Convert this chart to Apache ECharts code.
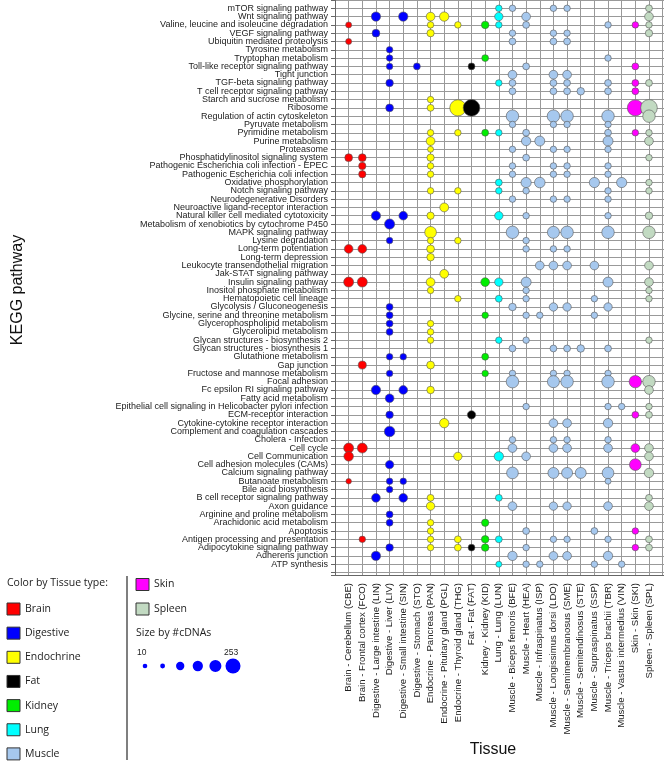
<!DOCTYPE html>
<html><head><meta charset="utf-8">
<script src="https://cdn.jsdelivr.net/npm/echarts@6/dist/echarts.min.js"></script>
<style>html,body{margin:0;padding:0;background:#fff}#c{width:664px;height:765px}</style>
</head><body><div id="c"></div>
<script>
const pathways = [
"mTOR signaling pathway","Wnt signaling pathway","Valine, leucine and isoleucine degradation","VEGF signaling pathway",
"Ubiquitin mediated proteolysis","Tyrosine metabolism","Tryptophan metabolism","Toll-like receptor signaling pathway",
"Tight junction","TGF-beta signaling pathway","T cell receptor signaling pathway","Starch and sucrose metabolism",
"Ribosome","Regulation of actin cytoskeleton","Pyruvate metabolism","Pyrimidine metabolism","Purine metabolism",
"Proteasome","Phosphatidylinositol signaling system","Pathogenic Escherichia coli infection - EPEC",
"Pathogenic Escherichia coli infection","Oxidative phosphorylation","Notch signaling pathway",
"Neurodegenerative Disorders","Neuroactive ligand-receptor interaction","Natural killer cell mediated cytotoxicity",
"Metabolism of xenobiotics by cytochrome P450","MAPK signaling pathway","Lysine degradation","Long-term potentiation",
"Long-term depression","Leukocyte transendothelial migration","Jak-STAT signaling pathway","Insulin signaling pathway",
"Inositol phosphate metabolism","Hematopoietic cell lineage","Glycolysis / Gluconeogenesis",
"Glycine, serine and threonine metabolism","Glycerophospholipid metabolism","Glycerolipid metabolism",
"Glycan structures - biosynthesis 2","Glycan structures - biosynthesis 1","Glutathione metabolism","Gap junction",
"Fructose and mannose metabolism","Focal adhesion","Fc epsilon RI signaling pathway","Fatty acid metabolism",
"Epithelial cell signaling in Helicobacter pylori infection","ECM-receptor interaction",
"Cytokine-cytokine receptor interaction","Complement and coagulation cascades","Cholera - Infection","Cell cycle",
"Cell Communication","Cell adhesion molecules (CAMs)","Calcium signaling pathway","Butanoate metabolism",
"Bile acid biosynthesis","B cell receptor signaling pathway","Axon guidance","Arginine and proline metabolism",
"Arachidonic acid metabolism","Apoptosis","Antigen processing and presentation","Adipocytokine signaling pathway",
"Adherens junction","ATP synthesis"];

const tissues = ["Brain - Cerebellum (CBE)","Brain - Frontal cortex (FCO)","Digestive - Large intestine (LIN)",
"Digestive - Liver (LIV)","Digestive - Small intestine (SIN)","Digestive - Stomach (STO)","Endocrine - Pancreas (PAN)",
"Endocrine - Pituitary gland (PGL)","Endocrine - Thyroid gland (THG)","Fat - Fat (FAT)","Kidney - Kidney (KID)",
"Lung - Lung (LUN)","Muscle - Biceps femoris (BFE)","Muscle - Heart (HEA)","Muscle - Infraspinatus (ISP)",
"Muscle - Longissimus dorsi (LDO)","Muscle - Semimembranosus (SME)","Muscle - Semitendinosus (STE)",
"Muscle - Supraspinatus (SSP)","Muscle - Triceps brachii (TBR)","Muscle - Vastus intermedius (VIN)",
"Skin - Skin (SKI)","Spleen - Spleen (SPL)"];

const typeNames = ["Brain","Digestive","Endochrine","Fat","Kidney","Lung","Muscle","Skin","Spleen"];
const typeColors = ["#ff0000","#0000ff","#ffff00","#000000","#00ee00","#00ffff","#a6c8ee","#ff00ff","#c2dac2"];
const tissueType = [0,0,1,1,1,1,2,2,2,3,4,5,6,6,6,6,6,6,6,6,6,7,8];

// [pathway index, #cDNAs]
const CBE = [[2,24],[4,24],[18,50],[29,67],[33,95],[53,95],[54,85],[57,18]];
const FCO = [[18,50],[19,42],[20,42],[29,67],[33,95],[43,55],[53,95],[64,30]];
const LIN = [[1,80],[3,50],[25,80],[46,80],[59,67],[66,80]];
const LIV = [[5,30],[6,30],[7,30],[9,45],[12,50],[26,100],[28,30],[36,35],[37,35],[38,35],[39,35],[42,30],[44,30],[47,67],[49,45],[51,110],[55,60],[57,30],[58,30],[61,35],[62,35],[65,45]];
const SIN = [[1,80],[25,67],[42,30],[46,67],[57,30],[59,67]];
const STO = [[7,35]];
const PAN = [[1,67],[2,30],[3,42],[11,30],[12,35],[15,30],[16,67],[17,24],[18,42],[19,30],[20,30],[22,30],[25,42],[27,140],[28,30],[29,50],[30,45],[33,67],[34,30],[38,30],[39,30],[40,30],[43,50],[46,45],[59,35],[60,60],[62,30],[63,30],[64,30],[65,30]];
const PGL = [[1,80],[24,70],[32,67],[50,80]];
const THG = [[2,30],[12,300],[15,30],[22,30],[28,30],[35,30],[54,60],[64,35],[65,35]];
const FAT = [[7,35],[12,320],[49,60],[65,35]];
const KID = [[2,45],[6,35],[15,35],[33,67],[37,30],[42,35],[44,30],[62,42],[64,45],[65,45]];
const LUN = [[0,30],[1,60],[2,30],[9,30],[15,30],[21,35],[22,30],[25,60],[33,60],[35,35],[40,30],[54,80],[59,35],[64,35],[67,24]];
const BFE = [[0,30],[3,30],[4,35],[8,67],[9,35],[10,35],[13,164],[14,30],[17,30],[19,30],[20,30],[23,30],[27,164],[36,45],[41,35],[44,30],[45,164],[52,30],[53,67],[56,140],[60,67],[66,80]];
const HEA = [[1,67],[2,35],[7,35],[15,35],[16,80],[18,35],[21,100],[22,30],[25,30],[28,30],[29,30],[33,95],[34,30],[35,30],[37,30],[40,30],[48,30],[54,67],[63,35],[65,30],[67,30]];
const ISP = [[16,95],[21,110],[31,67],[37,30],[67,30]];
const LDO = [[0,30],[3,30],[4,35],[8,67],[9,35],[10,35],[13,164],[14,30],[17,30],[19,30],[20,30],[23,30],[27,150],[29,30],[31,67],[36,60],[41,35],[44,30],[45,150],[50,67],[52,30],[53,67],[56,120],[60,60],[64,30],[66,67]];
const SME = [[0,30],[3,30],[4,35],[8,67],[9,35],[10,35],[13,164],[14,30],[17,30],[19,30],[20,30],[23,30],[27,164],[29,30],[31,67],[36,60],[41,35],[44,30],[45,164],[50,67],[52,30],[53,67],[56,120],[60,60],[64,30],[66,67]];
const STE = [[10,45],[41,45],[56,120]];
const SSP = [[21,100],[31,67],[35,30],[37,30],[63,35],[67,30]];
const TBR = [[2,30],[6,30],[9,35],[10,35],[13,164],[14,30],[15,35],[16,95],[17,30],[19,30],[20,30],[22,30],[23,30],[25,30],[27,164],[33,95],[36,60],[41,35],[44,30],[45,164],[48,30],[50,80],[52,30],[53,67],[56,140],[57,24],[60,67],[64,30],[66,80]];
const VIN = [[21,100],[48,30],[67,30]];
const SKI = [[2,30],[7,35],[9,35],[10,35],[12,290],[15,30],[45,160],[49,35],[53,67],[55,140],[63,30],[65,30]];
const SPL = [[0,35],[1,67],[2,30],[3,42],[9,35],[12,320],[13,164],[15,30],[16,67],[18,30],[21,30],[22,30],[25,45],[27,164],[31,67],[33,67],[34,30],[35,30],[40,30],[45,164],[46,67],[48,30],[49,35],[53,67],[54,67],[56,80],[59,35],[60,67],[64,35],[65,35]];
const tissueData = [CBE,FCO,LIN,LIV,SIN,STO,PAN,PGL,THG,FAT,KID,LUN,BFE,HEA,ISP,LDO,SME,STE,SSP,TBR,VIN,SKI,SPL];
const sizeKeyValues = [10, 12, 59, 102, 149, 253];
const sizeKeyLabels = ["10", "253"];

const sizeFn = v => 2 + 0.82 * Math.sqrt(v);
const FONT = "Liberation Sans, Arial, sans-serif";
const LFONT = "Open Sans, sans-serif";

const series = tissueData.map((arr, c) => ({
  type: 'scatter',
  name: tissues[c],
  data: arr.map(([r, v]) => [c, r, v]),
  symbolSize: d => sizeFn(d[2]),
  itemStyle: { color: typeColors[tissueType[c]], borderColor: '#555', borderWidth: 0.6, opacity: 1 },
  emphasis: { disabled: true },
  z: 3
}));

const graphic = [];
graphic.push({ type: 'text', x: 18, y: 290, rotation: Math.PI/2,
  style: { text: 'KEGG pathway', font: '16px ' + FONT, fill: '#111', align: 'center', verticalAlign: 'middle' } });
graphic.push({ type: 'text', x: 493, y: 750,
  style: { text: 'Tissue', font: '16px ' + FONT, fill: '#111', align: 'center', verticalAlign: 'middle' } });
graphic.push({ type: 'text', x: 7, y: 583,
  style: { text: 'Color by Tissue type:', font: '10.5px ' + LFONT, fill: '#222', verticalAlign: 'middle' } });
for (let i = 0; i < 7; i++) {
  const cy = 609 + 24.15 * i;
  graphic.push({ type: 'rect', shape: { x: 7, y: cy - 6, width: 13, height: 12 },
    style: { fill: typeColors[i], stroke: '#333', lineWidth: 1 } });
  graphic.push({ type: 'text', x: 25, y: cy,
    style: { text: typeNames[i], font: '10.5px ' + LFONT, fill: '#222', verticalAlign: 'middle' } });
}
[7, 8].forEach((t, k) => {
  const cy = 584.5 + 24.5 * k;
  graphic.push({ type: 'rect', shape: { x: 136, y: cy - 6, width: 13, height: 12 },
    style: { fill: typeColors[t], stroke: '#333', lineWidth: 1 } });
  graphic.push({ type: 'text', x: 154, y: cy,
    style: { text: typeNames[t], font: '10.5px ' + LFONT, fill: '#222', verticalAlign: 'middle' } });
});
graphic.push({ type: 'line', shape: { x1: 127, y1: 576, x2: 127, y2: 760 }, style: { stroke: '#555', lineWidth: 1.5 } });
graphic.push({ type: 'text', x: 136, y: 633,
  style: { text: 'Size by #cDNAs', font: '10.5px ' + LFONT, fill: '#222', verticalAlign: 'middle' } });
graphic.push({ type: 'text', x: 137, y: 653, style: { text: sizeKeyLabels[0], font: '8.5px ' + FONT, fill: '#222', verticalAlign: 'middle' } });
graphic.push({ type: 'text', x: 224, y: 653, style: { text: sizeKeyLabels[1], font: '8.5px ' + FONT, fill: '#222', verticalAlign: 'middle' } });
sizeKeyValues.forEach((v, i) => {
  graphic.push({ type: 'circle', shape: { cx: 145 + 17.6 * i, cy: 666, r: sizeFn(v) / 2 }, style: { fill: '#0000ff' } });
});

const chart = echarts.init(document.getElementById('c'), null, { renderer: 'canvas' });
chart.setOption({
  animation: false,
  backgroundColor: '#fff',
  grid: { left: 335, top: 0, right: 0, height: 575, containLabel: false },
  xAxis: {
    type: 'value', min: -1, max: 23.1, interval: 1,
    axisLine: { show: true, onZero: false, lineStyle: { color: '#666', width: 1 } },
    axisTick: { show: false },
    splitLine: { show: true, lineStyle: { color: '#999', width: 1 } },
    axisLabel: { rotate: 90, margin: 8, fontSize: 9.6, fontFamily: FONT, color: '#222',
      formatter: v => (Number.isInteger(v) && tissues[v]) ? tissues[v] : '' }
  },
  yAxis: {
    type: 'value', min: -1, max: 68.3, interval: 1, inverse: true,
    axisLine: { show: true, onZero: false, lineStyle: { color: '#666', width: 1 } },
    axisTick: { show: true, length: 4, lineStyle: { color: '#666' } },
    splitLine: { show: true, lineStyle: { color: '#999', width: 1 } },
    axisLabel: { margin: 7, fontSize: 9, fontFamily: FONT, color: '#222',
      formatter: v => (Number.isInteger(v) && pathways[v]) ? pathways[v] : '' }
  },
  graphic: graphic,
  series: series
});
</script></body></html>
